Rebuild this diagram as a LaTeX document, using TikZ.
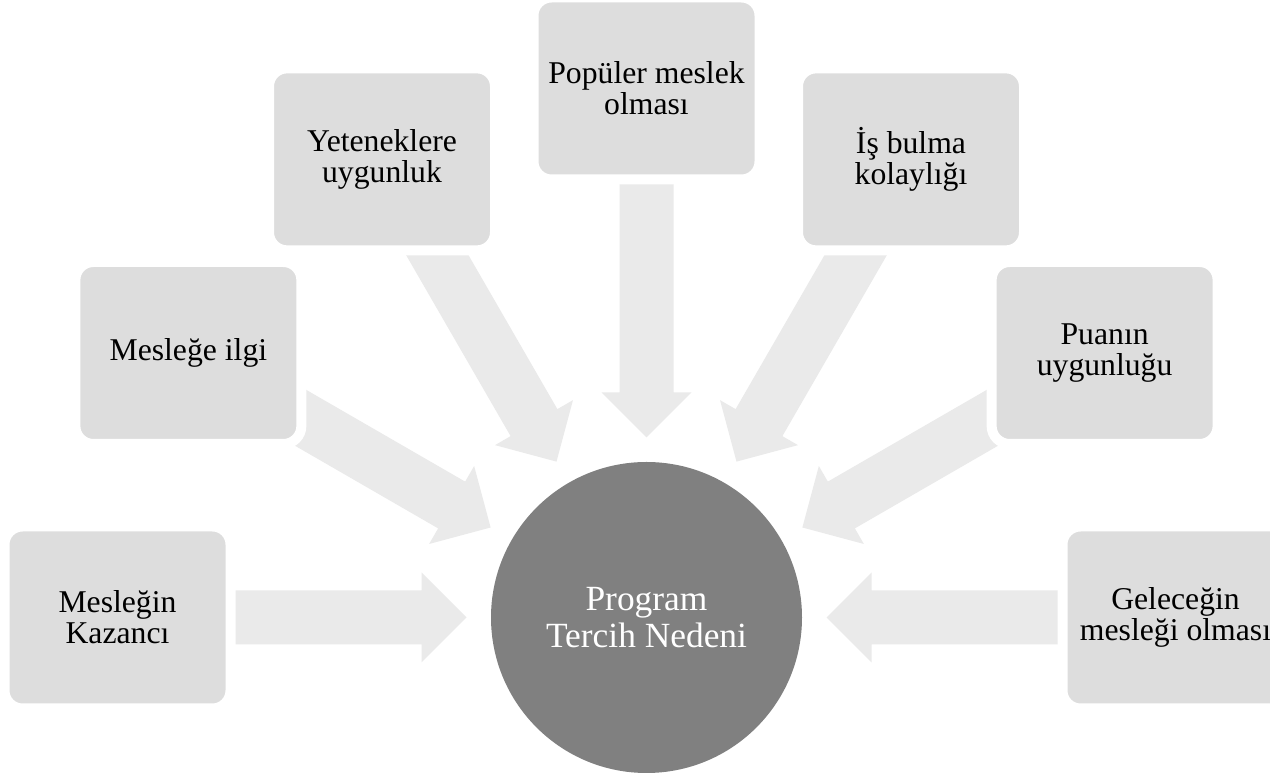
\documentclass[tikz,border=0pt]{standalone}
\usepackage{fontspec}
\setmainfont{Liberation Serif}
\usetikzlibrary{calc}

\definecolor{boxgray}{HTML}{DDDDDD}
\definecolor{arrowgray}{HTML}{EAEAEA}
\definecolor{hubgray}{HTML}{808080}

\tikzset{
  reason/.style={rectangle, rounded corners=18pt, fill=boxgray, draw=white,
    line width=10pt, minimum width=226pt, minimum height=182pt, inner sep=0pt,
    align=center, font=\fontsize{31.7}{31}\selectfont},
  hub/.style={circle, fill=hubgray, minimum size=311pt, inner sep=0pt,
    align=center, text=white, font=\fontsize{35.4}{37}\selectfont},
  blockarrow/.style={fill=arrowgray},
}

% Block arrow from tail #1 to tip #2: shaft 54pt wide, head 90pt wide, 45pt long
\newcommand\flowarrow[2]{%
  \coordinate (hb) at ($(#2)!45pt!(#1)$);
  \fill[blockarrow] ($(#1)!27pt!90:(#2)$) -- ($(hb)!27pt!90:(#2)$)
    -- ($(hb)!45pt!90:(#2)$) -- (#2) -- ($(hb)!45pt!-90:(#2)$)
    -- ($(hb)!27pt!-90:(#2)$) -- ($(#1)!27pt!-90:(#2)$) -- cycle;
}

\begin{document}
\begin{tikzpicture}[x=1pt,y=1pt]
  \useasboundingbox (0,0) rectangle (1270,776);
  \fill[white] (0,0) rectangle (1270,776);
  \clip (0,0) rectangle (1270,776);

  \coordinate (c) at (646.5,158.5);

  % arrows pointing at the hub
  \foreach \ang/\i in {180/1,150/2,120/3,90/4,60/5,30/6,0/7}{
    \coordinate (t\i) at ($(c)+(\ang:440)$);
    \coordinate (p\i) at ($(c)+(\ang:180)$);
    \flowarrow{t\i}{p\i}
  }

  % reason boxes
  \node[reason] (b1) at ($(c)+(180:529)$) {Mesleğin\\Kazancı};
  \node[reason] (b2) at ($(c)+(150:529)$) {Mesleğe ilgi};
  \node[reason] (b3) at ($(c)+(120:529)$) {Yeteneklere\\uygunluk};
  \node[reason] (b4) at ($(c)+(90:529)$)  {Popüler meslek\\olması};
  \node[reason] (b5) at ($(c)+(60:529)$)  {İş bulma\\kolaylığı};
  \node[reason] (b6) at ($(c)+(30:529)$)  {Puanın\\uygunluğu};
  \node[reason] (b7) at ($(c)+(0:529)$)   {Geleceğin\\mesleği olması};

  % hub
  \node[hub] (hub) at (c) {Program\\Tercih Nedeni};
\end{tikzpicture}
\end{document}
